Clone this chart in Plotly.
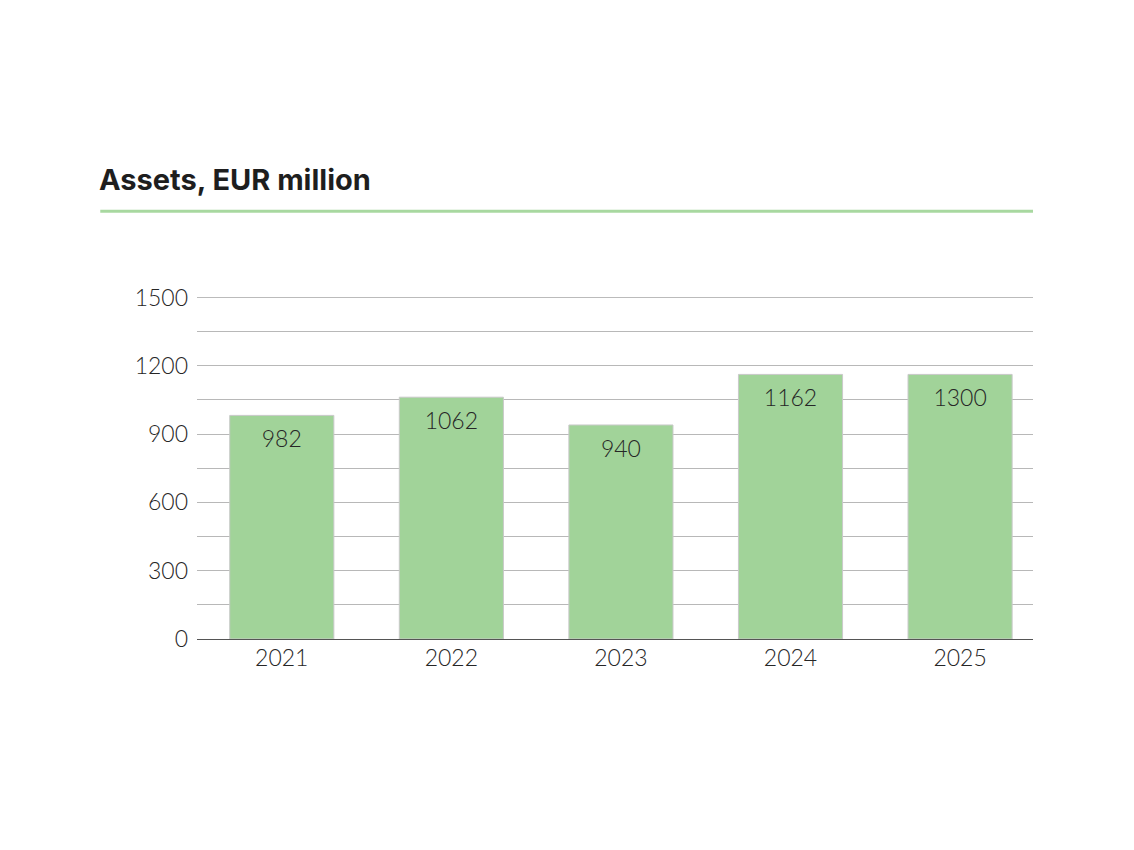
import plotly.graph_objects as go

years = ["2021", "2022", "2023", "2024", "2025"]
bar_values = [982, 1062, 940, 1162, 1162]
bar_labels = ["982", "1062", "940", "1162", "1300"]
y_ticks = [0, 300, 600, 900, 1200, 1500]

BAR = "#a1d399"
TXT = "#262626"
FONT = "Lato"
GRID = "#b8b8b8"

fig = go.Figure()
fig.add_trace(go.Bar(
    x=years, y=bar_values,
    marker=dict(color=BAR, line=dict(color="#c9c9c9", width=1)),
    hoverinfo="skip",
))
fig.add_trace(go.Scatter(
    x=years, y=bar_values, text=bar_labels, mode="markers+text",
    textposition="bottom center",
    marker=dict(size=22, opacity=0),
    textfont=dict(family=FONT, size=23, color=TXT, weight=300),
    hoverinfo="skip", cliponaxis=False,
))

fig.add_annotation(xref="paper", yref="paper", x=-0.1193, y=1.3447, text="<b>Assets, EUR million</b>",
                   showarrow=False, xanchor="left", yanchor="middle",
                   font=dict(family="Inter", size=29, color="#1e1e1e"))
fig.add_shape(type="line", xref="paper", yref="paper", x0=-0.1157, x1=1.0, y0=1.251, y1=1.251,
              line=dict(color="#a8d8a0", width=3))
# top gridline at the last tick
fig.add_shape(type="line", xref="paper", yref="y", x0=0, x1=1, y0=y_ticks[-1], y1=y_ticks[-1],
              line=dict(color=GRID, width=1), layer="below")

fig.update_layout(
    width=1126, height=842,
    margin=dict(l=189, r=101, t=289, b=211),
    plot_bgcolor="white", paper_bgcolor="white",
    bargap=0.386,
    showlegend=False,
    xaxis=dict(type="category", range=[-0.5, 4.43], showgrid=False, showline=False,
               ticks="", tickfont=dict(family=FONT, size=23, color=TXT, weight=300),
               ticklabelstandoff=3, fixedrange=True),
    yaxis=dict(range=[0, 1502], tickvals=y_ticks, showgrid=True, gridcolor=GRID, gridwidth=1,
               minor=dict(dtick=150, tick0=0, showgrid=True, gridcolor=GRID, gridwidth=1),
               zeroline=True, zerolinecolor="#555555", zerolinewidth=1,
               tickfont=dict(family=FONT, size=23, color=TXT, weight=300),
               ticks="", ticklabelstandoff=8, fixedrange=True),
)

fig.write_html("out.html")
